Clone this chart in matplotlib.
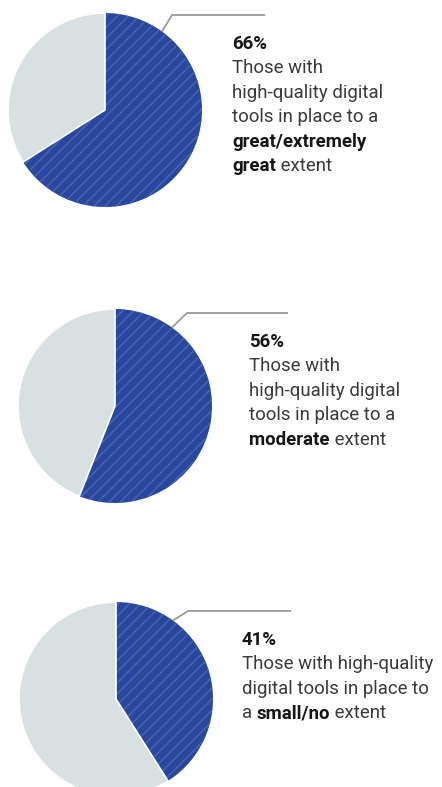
import math
import matplotlib.pyplot as plt

# Data
shares = [66, 56, 41]
pct_labels = ['66%', '56%', '41%']
# each label line is a list of (text, bold) pieces
label_lines = [
    [[('Those with', False)],
     [('high-quality digital', False)],
     [('tools in place to a', False)],
     [('great/extremely', True)],
     [('great', True), (' extent', False)]],
    [[('Those with', False)],
     [('high-quality digital', False)],
     [('tools in place to a', False)],
     [('moderate', True), (' extent', False)]],
    [[('Those with high-quality', False)],
     [('digital tools in place to', False)],
     [('a ', False), ('small/no', True), (' extent', False)]],
]

W, H = 442, 787
blue = '#2a479e'
stripe = '#4863b3'
grey = '#d9e0e2'
text_col = '#3a3a3a'
bold_col = '#161616'
line_col = '#9a9a9a'

plt.rcParams['hatch.linewidth'] = 1.1
font = ['Roboto', 'DejaVu Sans']
fsize = 13.4

fig = plt.figure(figsize=(W / 100, H / 100), dpi=100)
ax = fig.add_axes([0, 0, 1, 1])

# layout in pixel coords (y measured from top)
centers = [(105, 110), (115, 406), (116, 699)]
radius = 97
text_x = [232, 249, 242]
first_base = [49, 347, 645]
line_step = 24.4
leader_end = [(172, 15, 265), (187, 313, 288), (188, 611, 291)]
leader_angle = 36  # degrees clockwise from top

fig.canvas.draw()
renderer = fig.canvas.get_renderer()

for i, val in enumerate(shares):
    cx, cy = centers[i]
    cy = H - cy
    wedges, _ = ax.pie([val, 100 - val], colors=[blue, grey], startangle=90,
                       counterclock=False, center=(cx, cy), radius=radius,
                       wedgeprops=dict(linewidth=0))
    # hatch colour follows the edge colour
    wedges[0].set_edgecolor(stripe)
    wedges[0].set_linewidth(0)
    wedges[0].set_hatch('///')
    wedges[1].set_edgecolor('white')
    wedges[1].set_linewidth(1.2)
    wedges[1].set_zorder(wedges[0].get_zorder() + 1)

    # leader line
    a = math.radians(leader_angle)
    sx = cx + radius * math.sin(a)
    sy = cy + radius * math.cos(a)
    ex, ey, hx = leader_end[i]
    ax.plot([sx, ex, hx], [sy, H - ey, H - ey], color=line_col, lw=1.3,
            solid_capstyle='butt')

    # labels
    ax.text(text_x[i], H - first_base[i], pct_labels[i], family=font,
            fontsize=fsize, fontweight='bold', color=bold_col, va='baseline')
    for j, pieces in enumerate(label_lines[i]):
        x = text_x[i]
        y = H - (first_base[i] + (j + 1) * line_step)
        for txt, bold in pieces:
            t = ax.text(x, y, txt, family=font, fontsize=fsize,
                        fontweight='bold' if bold else 'normal',
                        color=bold_col if bold else text_col, va='baseline')
            x += t.get_window_extent(renderer).width

ax.set_xlim(0, W)
ax.set_ylim(0, H)
ax.set_aspect('auto')
ax.axis('off')

fig.savefig('out.png', dpi=100, facecolor='white')
